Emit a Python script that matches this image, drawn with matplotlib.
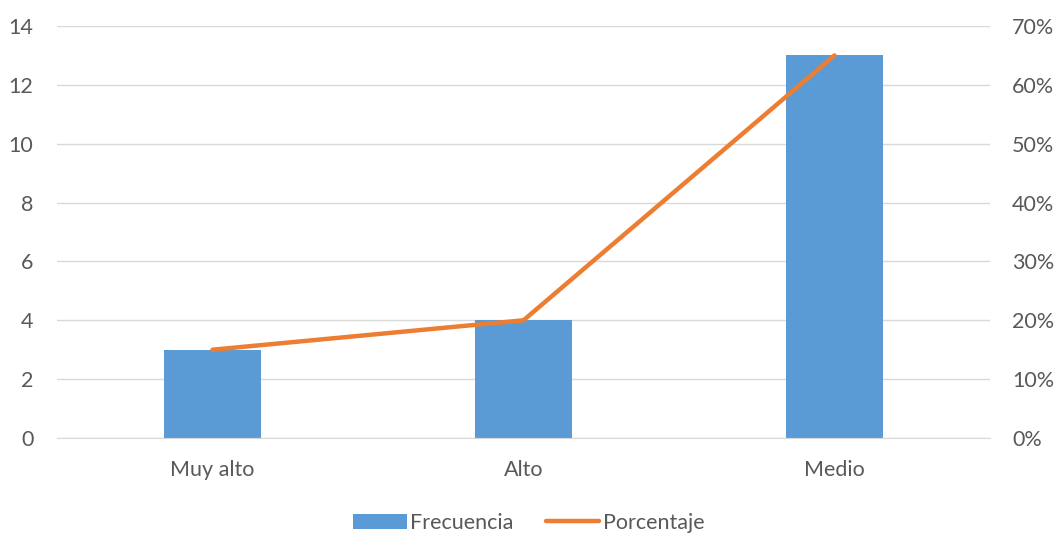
import matplotlib
matplotlib.use("Agg")
import matplotlib.pyplot as plt
from matplotlib.ticker import FuncFormatter

categories = ["Muy alto", "Alto", "Medio"]
frecuencia = [3, 4, 13]
porcentaje = [0.15, 0.20, 0.65]

plt.rcParams['font.family'] = ['Lato', 'DejaVu Sans']
gray = '#595959'
fs = 15.5

fig = plt.figure(figsize=(10.57, 5.36), dpi=100)
ax = fig.add_axes([57/1057, 1-438/536, (990-57)/1057, (438-26)/536])
ax2 = ax.twinx()

x = list(range(len(categories)))
ax.bar(x, frecuencia, width=0.31, color='#5B9BD5', label='Frecuencia', zorder=2)
ax2.plot(x, porcentaje, color='#ED7D31', linewidth=3.2, label='Porcentaje',
         solid_capstyle='round', zorder=3)

ax.set_xlim(-0.5, 2.5)
ax.set_ylim(0, 14)
ax.set_yticks(range(0, 15, 2))
ax2.set_ylim(0, 0.70)
ax2.set_yticks([i/10 for i in range(8)])
ax2.yaxis.set_major_formatter(FuncFormatter(lambda v, p: f"{round(v*100):d}%"))

ax.set_xticks(x)
ax.set_xticklabels(categories)
ax.grid(axis='y', color='#D9D9D9', linewidth=1, zorder=0)
ax.set_axisbelow(True)

for a in (ax, ax2):
    for s in a.spines.values():
        s.set_visible(False)
    a.tick_params(length=0, labelsize=fs, labelcolor=gray)
ax.spines['bottom'].set_visible(True)
ax.spines['bottom'].set_color('#D9D9D9')
ax.tick_params(axis='x', pad=16)
ax.tick_params(axis='y', pad=17)
ax2.tick_params(axis='y', pad=16)

h1, l1 = ax.get_legend_handles_labels()
h2, l2 = ax2.get_legend_handles_labels()
fig.legend(h1 + h2, l1 + l2, loc='center', bbox_to_anchor=(0.5, 1-523/536), ncol=2,
           frameon=False, fontsize=fs, labelcolor=gray, handlelength=2.5,
           handletextpad=0.15, columnspacing=1.5)

fig.savefig('out.png', dpi=100)
